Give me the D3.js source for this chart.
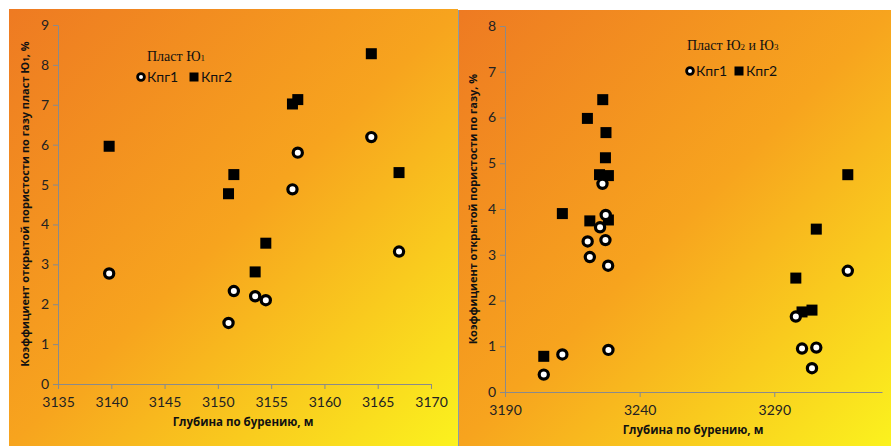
<!DOCTYPE html>
<html>
<head>
<meta charset="utf-8">
<script src="https://cdn.jsdelivr.net/npm/d3@7"></script>
<style>
  body { margin: 0; background: #fff; }
  svg { display: block; }
</style>
</head>
<body>
<div id="chart"></div>
<script>
// left panel: пласт Ю1
const leftDepth1 = [3139.8, 3151.0, 3151.5, 3153.5, 3154.5, 3157.0, 3157.5, 3164.4, 3167.0]
const leftKpg1 = [2.77, 1.53, 2.33, 2.2, 2.1, 4.88, 5.8, 6.19, 3.32]
const leftDepth2 = [3139.8, 3151.0, 3151.5, 3153.5, 3154.5, 3157.0, 3157.5, 3164.4, 3167.0]
const leftKpg2 = [5.96, 4.77, 5.25, 2.81, 3.53, 7.02, 7.13, 8.28, 5.3]
const leftXTicks = [3135, 3140, 3145, 3150, 3155, 3160, 3165, 3170]
const leftYTicks = [0, 1, 2, 3, 4, 5, 6, 7, 8, 9]

// right panel: пласты Ю2 и Ю3
const rightDepth1 = [3204.4, 3211.3, 3220.7, 3221.5, 3225.3, 3226.2, 3227.4, 3227.3, 3228.3, 3228.4, 3298.0, 3300.3, 3304.0, 3305.6, 3317.3]
const rightKpg1 = [0.38, 0.82, 3.29, 2.95, 3.6, 4.55, 3.87, 3.32, 2.76, 0.92, 1.65, 0.95, 0.52, 0.97, 2.65]
const rightDepth2 = [3204.4, 3211.3, 3220.6, 3221.5, 3225.1, 3226.3, 3227.5, 3227.3, 3228.4, 3228.4, 3298.0, 3300.3, 3304.0, 3305.6, 3317.3]
const rightKpg2 = [0.78, 3.9, 5.98, 3.74, 4.75, 6.39, 5.67, 5.12, 4.73, 3.76, 2.49, 1.75, 1.79, 3.56, 4.75]
const rightXTicks = [3190, 3240, 3290]
const rightYTicks = [0, 1, 2, 3, 4, 5, 6, 7, 8]

const W = 891, H = 446
const svg = d3.select("#chart").append("svg")
  .attr("width", W).attr("height", H)

const defs = svg.append("defs")
const grad = defs.append("linearGradient")
  .attr("id", "bg").attr("x1", "0").attr("y1", "0").attr("x2", "1").attr("y2", "1")
grad.append("stop").attr("offset", "0%").attr("stop-color", "#ee7a22")
grad.append("stop").attr("offset", "50%").attr("stop-color", "#f7a41e")
grad.append("stop").attr("offset", "100%").attr("stop-color", "#fbf21e")

const tickFont = "Lato, 'Open Sans', sans-serif"

function panel(cfg) {
  const g = svg.append("g")
  g.append("rect")
    .attr("x", cfg.box[0]).attr("y", cfg.box[1])
    .attr("width", cfg.box[2]).attr("height", cfg.box[3])
    .attr("fill", "url(#bg)")

  const x = d3.scaleLinear().domain(cfg.xDomain).range([cfg.plot.left, cfg.plot.right])
  const y = d3.scaleLinear().domain(cfg.yDomain).range([cfg.plot.bottom, cfg.plot.top])

  const xAxis = g.append("g")
    .attr("transform", `translate(0,${cfg.plot.bottom})`)
    .call(d3.axisBottom(x).tickValues(cfg.xTicks).tickFormat(d3.format("d")).tickSize(5).tickSizeOuter(0))
  const yAxis = g.append("g")
    .attr("transform", `translate(${cfg.plot.left},0)`)
    .call(d3.axisLeft(y).tickValues(cfg.yTicks).tickSize(5).tickSizeOuter(0))

  ;[xAxis, yAxis].forEach(a => {
    a.select(".domain").attr("stroke", "#8a8a8a")
    a.selectAll(".tick line").attr("stroke", "#8a8a8a")
    a.selectAll("text").attr("fill", "#222").style("font-family", tickFont).style("font-size", "14px")
  })
  xAxis.selectAll("text").attr("dy", "1.05em")
  yAxis.selectAll("text").attr("x", -9)

  // axis titles
  g.append("text")
    .attr("x", cfg.xTitle[0]).attr("y", cfg.xTitle[1])
    .attr("text-anchor", "middle")
    .style("font-family", "'Open Sans', sans-serif").style("font-weight", "bold").style("font-size", "11.5px")
    .attr("fill", "#111")
    .text("Глубина по бурению, м")

  const yt = g.append("text")
    .attr("transform", `translate(${cfg.yTitle[0]},${cfg.yTitle[1]}) rotate(-90)`)
    .attr("text-anchor", "middle")
    .style("font-family", "'Open Sans', sans-serif").style("font-weight", "bold").style("font-size", "11px")
    .attr("fill", "#111")
  cfg.yTitleParts.forEach(p => {
    yt.append("tspan").text(p[0]).style("font-size", p[1] ? "8px" : null)
  })

  // points
  g.selectAll(".kpg2").data(cfg.depth2.map((d, i) => [d, cfg.kpg2[i]]))
    .enter().append("rect")
    .attr("class", "kpg2")
    .attr("x", d => x(d[0]) - 5.5).attr("y", d => y(d[1]) - 5.5)
    .attr("width", 11).attr("height", 11)
    .attr("fill", "#000")
  g.selectAll(".kpg1").data(cfg.depth1.map((d, i) => [d, cfg.kpg1[i]]))
    .enter().append("circle")
    .attr("class", "kpg1")
    .attr("cx", d => x(d[0])).attr("cy", d => y(d[1]))
    .attr("r", 4.6)
    .attr("fill", "#fff").attr("stroke", "#000").attr("stroke-width", 3.2)

  // legend
  const lt = g.append("text")
    .attr("x", cfg.legTitle[0]).attr("y", cfg.legTitle[1])
    .style("font-family", "'Liberation Serif', serif").style("font-size", "14px")
    .attr("fill", "#111")
  cfg.legTitleParts.forEach(p => {
    lt.append("tspan").text(p[0]).style("font-size", p[1] ? "9px" : null)
  })
  const lx = cfg.legItems[0], ly = cfg.legItems[1]
  g.append("circle").attr("cx", lx).attr("cy", ly).attr("r", 3.4)
    .attr("fill", "#fff").attr("stroke", "#000").attr("stroke-width", 2.8)
  g.append("text").attr("x", lx + 6).attr("y", ly + 5)
    .style("font-family", tickFont).style("font-size", "14px").attr("fill", "#111")
    .text("Кпг1")
  g.append("rect").attr("x", cfg.legItems[2] - 4.5).attr("y", ly - 4.5)
    .attr("width", 9).attr("height", 9).attr("fill", "#000")
  g.append("text").attr("x", cfg.legItems[2] + 7).attr("y", ly + 5)
    .style("font-family", tickFont).style("font-size", "14px").attr("fill", "#111")
    .text("Кпг2")
}

panel({
  box: [9, 9, 449, 437],
  plot: { left: 58, right: 431, top: 25, bottom: 384 },
  xDomain: [3135, 3170], yDomain: [0, 9],
  xTicks: leftXTicks, yTicks: leftYTicks,
  depth1: leftDepth1, kpg1: leftKpg1, depth2: leftDepth2, kpg2: leftKpg2,
  xTitle: [243, 426],
  yTitle: [29, 204],
  yTitleParts: [["Коэффициент открытой пористости по газу пласт Ю", 0], ["1", 1], [", %", 0]],
  legTitle: [147, 61],
  legTitleParts: [["Пласт Ю", 0], ["1", 1]],
  legItems: [141, 77, 194]
})

panel({
  box: [459, 10, 432, 436],
  plot: { left: 505, right: 882, top: 26, bottom: 392 },
  xDomain: [3190, 3330], yDomain: [0, 8],
  xTicks: rightXTicks, yTicks: rightYTicks,
  depth1: rightDepth1, kpg1: rightKpg1, depth2: rightDepth2, kpg2: rightKpg2,
  xTitle: [693, 434],
  yTitle: [477, 209],
  yTitleParts: [["Коэффициент открытой пористости по газу, %", 0]],
  legTitle: [687, 50],
  legTitleParts: [["Пласт Ю", 0], ["2", 1], [" и Ю", 0], ["3", 1]],
  legItems: [690, 71, 739]
})

// separator line between panels
svg.append("line").attr("x1", 458.5).attr("x2", 458.5).attr("y1", 10).attr("y2", H)
  .attr("stroke", "#8a9aa8").attr("stroke-width", 1)
</script>
</body>
</html>
